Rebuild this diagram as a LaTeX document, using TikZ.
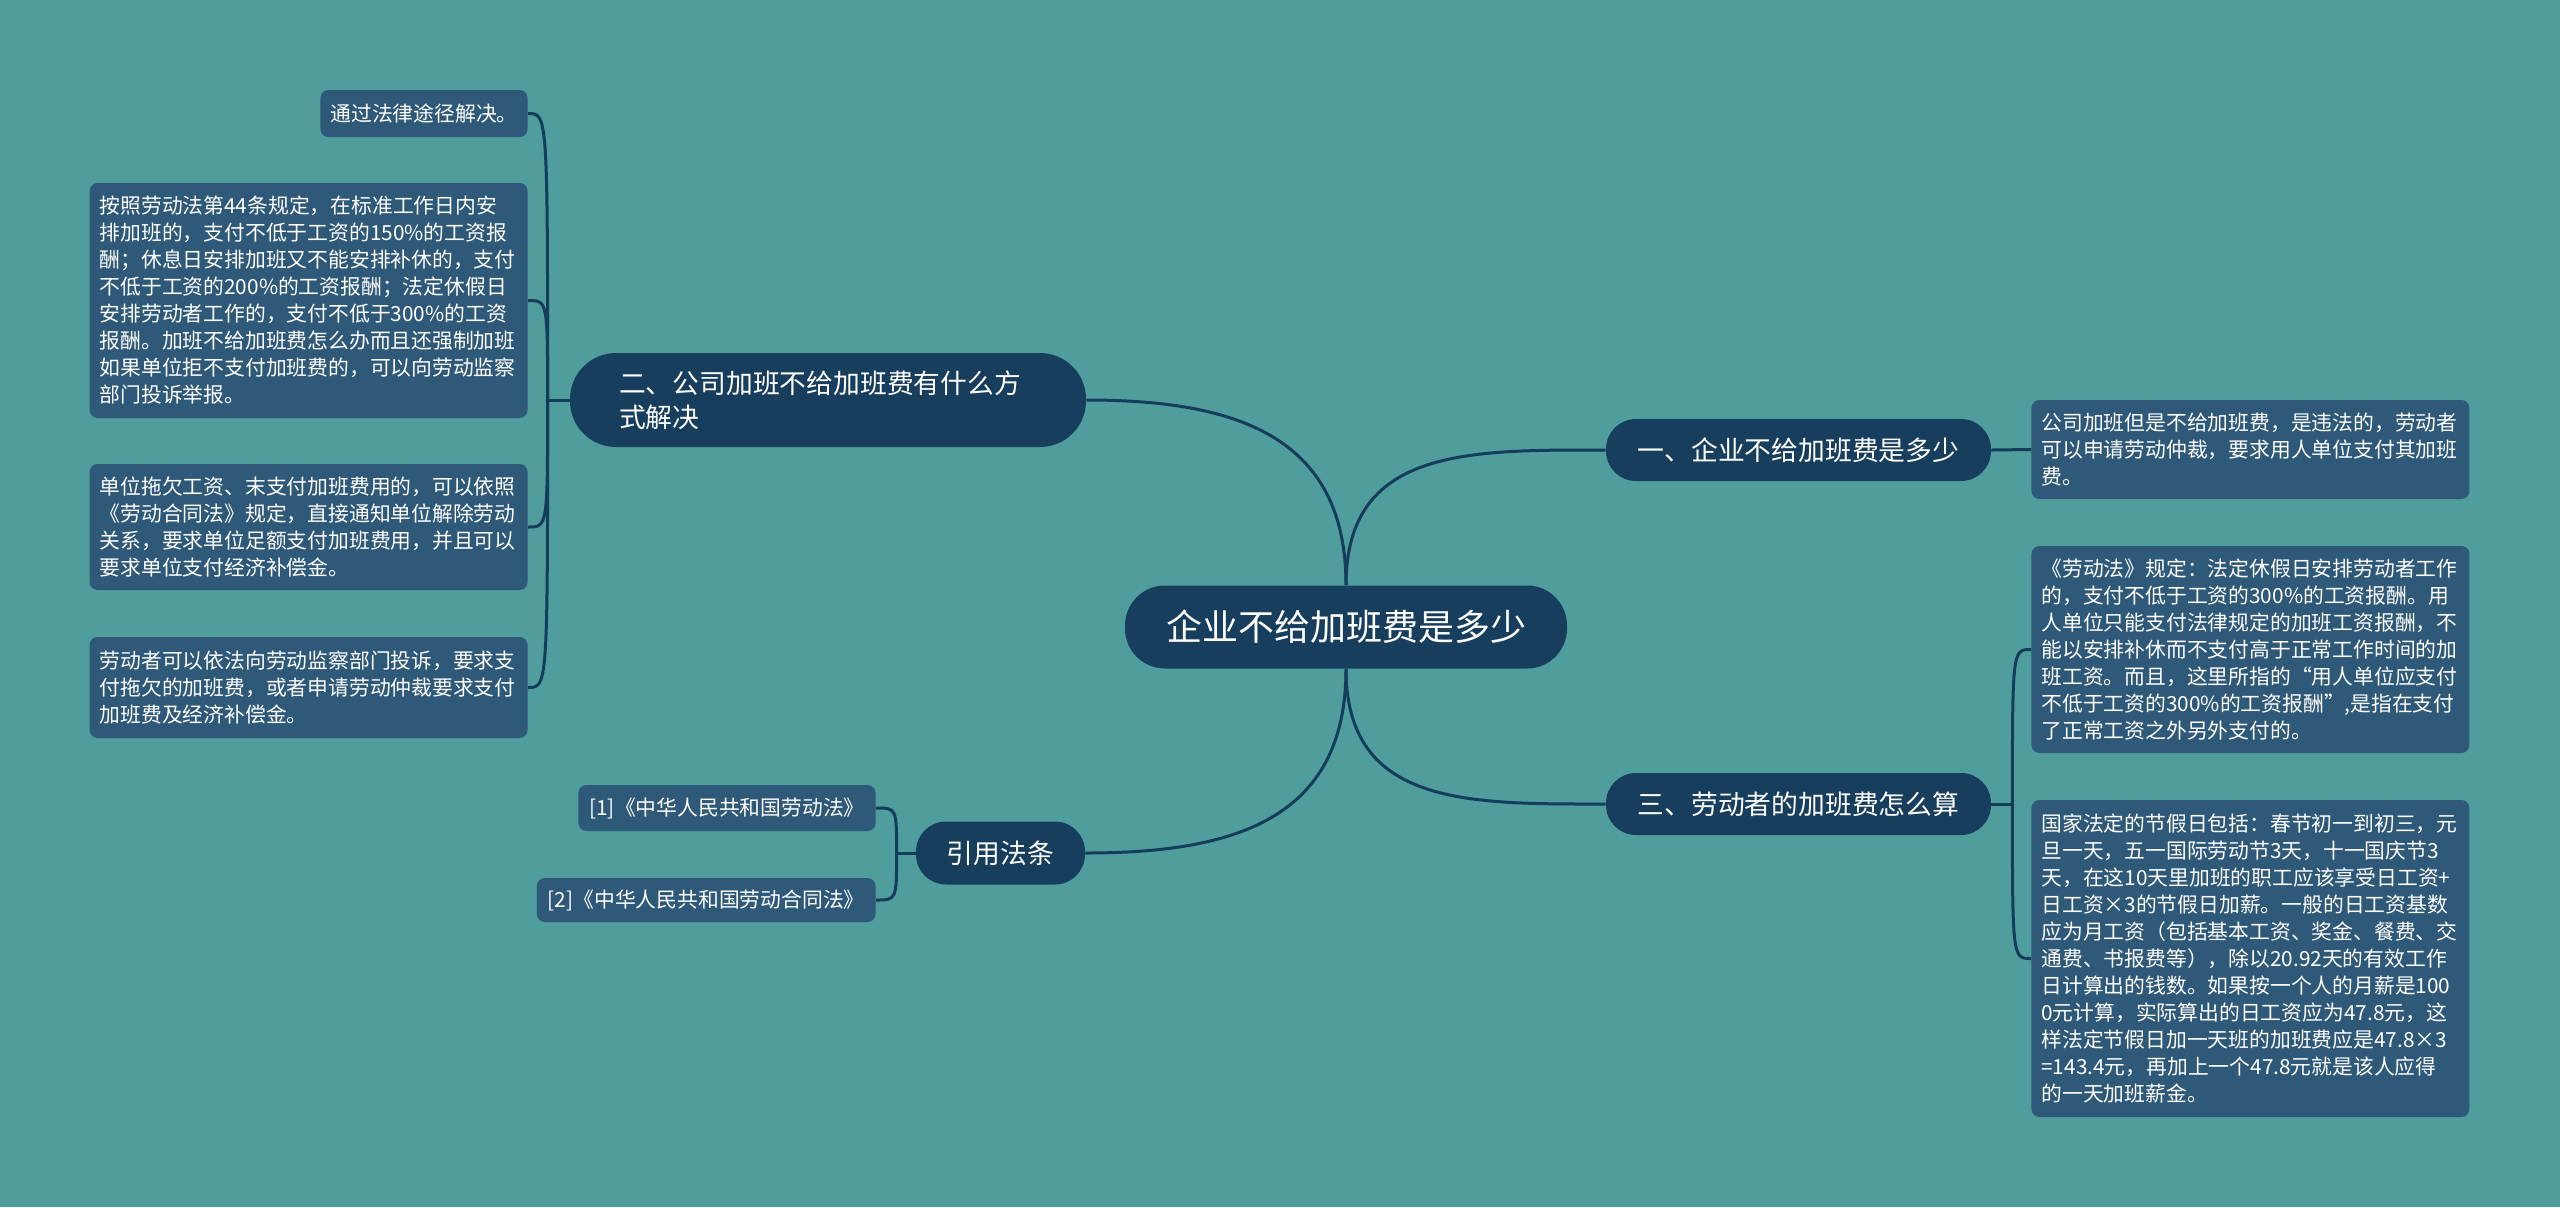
\documentclass[tikz,border=0pt]{standalone}
\usepackage{fontspec}
\setmainfont{Noto Sans CJK SC}
\usetikzlibrary{calc}
\definecolor{mybg}{RGB}{79,157,157}
\definecolor{mynavy}{RGB}{24,62,94}
\definecolor{myleaf}{RGB}{46,89,121}
\definecolor{myline}{RGB}{22,60,92}

\begin{document}
\begin{tikzpicture}[x=0.5pt, y=-0.5pt,
	rootbox/.style={fill=mynavy, text=white, rounded corners=20pt, minimum width=221pt, minimum height=41.5pt, inner sep=0pt, font=\fontsize{18}{22}\selectfont},
	branch/.style={fill=mynavy, text=white, rounded corners=15pt, minimum height=31pt, inner sep=0pt, font=\fontsize{13.4}{17}\selectfont},
	leaf/.style={fill=myleaf, text=white, rounded corners=4pt, inner xsep=5pt, inner ysep=2pt, font=\fontsize{10.4}{13.5}\selectfont},
	wideleaf/.style={leaf, text width=209pt, align=left},
	link/.style={draw=myline, line width=1.5pt}]
			% Background and margins
			\fill[mybg] (0,0) rectangle (2560,1207);
			\useasboundingbox (0,0) rectangle (2560,1207);

			% Draw the root and the four branches
			\node[rootbox] (root) at (1346,627) {企业不给加班费是多少};
			\node[branch, rounded corners=23pt, minimum width=258pt, minimum height=47pt, text width=209pt, align=left, font=\fontsize{13.4}{17}\selectfont] (way) at (828,400) {二、公司加班不给加班费有什么方\\式解决};
			\node[branch, minimum width=192.5pt] (howmuch) at (1798.5,450) {一、企业不给加班费是多少};
			\node[branch, minimum width=192.5pt] (calc) at (1798.5,804) {三、劳动者的加班费怎么算};
			\node[branch, minimum width=84.5pt, minimum height=31.5pt] (laws) at (1000.5,853) {引用法条};

			% Draw the left leaves
			\node[leaf, minimum height=23.5pt, anchor=east] (way1) at (528,113.5) {通过法律途径解决。};
			\node[wideleaf, minimum height=117.5pt, anchor=east] (way2) at (528,300.5) {按照劳动法第44条规定，在标准工作日内安\\排加班的，支付不低于工资的150\%的工资报\\酬；休息日安排加班又不能安排补休的，支付\\不低于工资的200\%的工资报酬；法定休假日\\安排劳动者工作的，支付不低于300\%的工资\\报酬。加班不给加班费怎么办而且还强制加班\\如果单位拒不支付加班费的，可以向劳动监察\\部门投诉举报。};
			\node[wideleaf, minimum height=63pt, anchor=east] (way3) at (528,527) {单位拖欠工资、末支付加班费用的，可以依照\\《劳动合同法》规定，直接通知单位解除劳动\\关系，要求单位足额支付加班费用，并且可以\\要求单位支付经济补偿金。};
			\node[wideleaf, minimum height=50.5pt, anchor=east] (way4) at (528,687.5) {劳动者可以依法向劳动监察部门投诉，要求支\\付拖欠的加班费，或者申请劳动仲裁要求支付\\加班费及经济补偿金。};

			% Draw the cited laws
			\node[leaf, inner xsep=5.5pt, minimum height=23pt, anchor=east] (law1) at (876,808) {[1]《中华人民共和国劳动法》};
			\node[leaf, inner xsep=5.5pt, minimum height=22pt, anchor=east] (law2) at (876,900) {[2]《中华人民共和国劳动合同法》};

			% Draw the right leaves
			\node[wideleaf, minimum height=49.5pt, anchor=west] (much1) at (2031,449.5) {公司加班但是不给加班费，是违法的，劳动者\\可以申请劳动仲裁，要求用人单位支付其加班\\费。};
			\node[wideleaf, minimum height=103.5pt, anchor=west] (calc1) at (2031,649.5) {《劳动法》规定：法定休假日安排劳动者工作\\的，支付不低于工资的300\%的工资报酬。用\\人单位只能支付法律规定的加班工资报酬，不\\能以安排补休而不支付高于正常工作时间的加\\班工资。而且，这里所指的“用人单位应支付\\不低于工资的300\%的工资报酬”,是指在支付\\了正常工资之外另外支付的。};
			\node[wideleaf, minimum height=158.5pt, anchor=west] (calc2) at (2031,958.5) {国家法定的节假日包括：春节初一到初三，元\\旦一天，五一国际劳动节3天，十一国庆节3\\天，在这10天里加班的职工应该享受日工资+\\日工资×3的节假日加薪。一般的日工资基数\\应为月工资（包括基本工资、奖金、餐费、交\\通费、书报费等），除以20.92天的有效工作\\日计算出的钱数。如果按一个人的月薪是100\\0元计算，实际算出的日工资应为47.8元，这\\样法定节假日加一天班的加班费应是47.8×3\\=143.4元，再加上一个47.8元就是该人应得\\的一天加班薪金。};

			% Connect the root to the branches
			\draw[link] (root.north) to[out=90, in=0, looseness=1.2] (way.east);
			\draw[link] (root.north) to[out=90, in=180, looseness=1.2] (howmuch.west);
			\draw[link] (root.south) to[out=-90, in=180, looseness=1.2] (calc.west);
			\draw[link] (root.south) to[out=-90, in=0, looseness=1.2] (laws.east);

			% Connect the branches to their leaves
			\coordinate (waysplit) at ($(way.west)+(-22,0)$);
			\draw[link] (way.west) -- (waysplit);
			\foreach \leaf in {way1,way2,way3,way4}
				\draw[link] (waysplit) .. controls (waysplit |- \leaf.east) and (waysplit |- \leaf.east) .. (\leaf.east);

			\coordinate (lawsplit) at ($(laws.west)+(-19,0)$);
			\draw[link] (laws.west) -- (lawsplit);
			\foreach \leaf in {law1,law2}
				\draw[link] (lawsplit) .. controls (lawsplit |- \leaf.east) and (lawsplit |- \leaf.east) .. (\leaf.east);

			\draw[link] (howmuch.east) -- (much1.west);

			\coordinate (calcsplit) at ($(calc.east)+(21,0)$);
			\draw[link] (calc.east) -- (calcsplit);
			\foreach \leaf in {calc1,calc2}
				\draw[link] (calcsplit) .. controls (calcsplit |- \leaf.west) and (calcsplit |- \leaf.west) .. (\leaf.west);
		\end{tikzpicture}
\end{document}
